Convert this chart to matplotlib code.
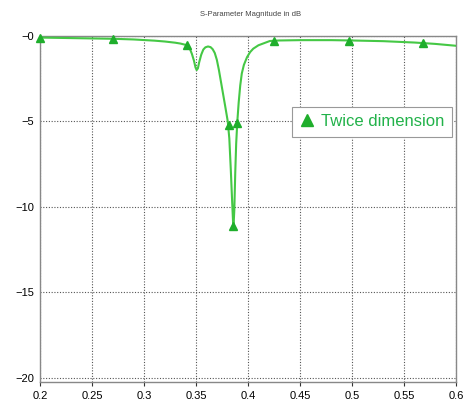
import matplotlib
matplotlib.use("Agg")
import matplotlib.pyplot as plt
from matplotlib.lines import Line2D

# curve (frequency, S-parameter magnitude in dB)
freq = [0.20, 0.22, 0.25, 0.27, 0.29, 0.31, 0.32, 0.33, 0.335, 0.3417, 0.344,
        0.346, 0.348, 0.3495, 0.3506, 0.3518, 0.353, 0.355, 0.357, 0.359, 0.3615,
        0.364, 0.366, 0.368, 0.370, 0.372, 0.374, 0.376, 0.378, 0.3805, 0.382,
        0.3834, 0.3848, 0.3859, 0.3868, 0.3877, 0.3886, 0.3897, 0.391, 0.3925,
        0.394, 0.396, 0.399, 0.402, 0.405, 0.41, 0.421, 0.43, 0.45, 0.48, 0.50,
        0.53, 0.56, 0.58, 0.60]
mag = [-0.10, -0.12, -0.15, -0.17, -0.21, -0.28, -0.33, -0.40, -0.45, -0.55, -0.75,
       -1.05, -1.45, -1.85, -2.0, -1.9, -1.55, -1.1, -0.8, -0.67, -0.62,
       -0.66, -0.78, -1.0, -1.4, -2.0, -2.7, -3.4, -4.1, -5.0, -6.0,
       -7.8, -9.8, -11.3, -10.2, -8.0, -6.3, -5.0, -3.9, -2.9,
       -2.2, -1.7, -1.25, -0.95, -0.75, -0.55, -0.3, -0.27, -0.25, -0.25, -0.27,
       -0.31, -0.39, -0.47, -0.58]

# triangle markers
mark_f = [0.20, 0.27, 0.3417, 0.3815, 0.386, 0.3895, 0.425, 0.497, 0.568]
mark_m = [-0.10, -0.17, -0.55, -5.2, -11.1, -5.1, -0.3, -0.28, -0.42]

xticks = [0.2, 0.25, 0.3, 0.35, 0.4, 0.45, 0.5, 0.55, 0.6]
yticks = [0, -5, -10, -15, -20]
ytick_labels = ["\u22120", "\u22125", "\u221210", "\u221215", "\u221220"]

plt.rcParams['font.family'] = ['Liberation Sans', 'DejaVu Sans']

fig = plt.figure(figsize=(4.68, 4.03), dpi=100)
ax = fig.add_axes([0.0855, 0.052, 0.889, 0.859])

ax.plot(freq, mag, color='#45c845', linewidth=1.5, zorder=3,
        solid_joinstyle='round')
ax.plot(mark_f, mark_m, linestyle='none', marker='^', markersize=6,
        color='#1fae2c', zorder=4, clip_on=False)

ax.set_xlim(0.2, 0.6)
ax.set_ylim(-20.25, 0)
ax.set_xticks(xticks)
ax.set_xticklabels([f"{t:g}" for t in xticks])
ax.set_yticks(yticks)
ax.set_yticklabels(ytick_labels)
ax.tick_params(axis='both', labelsize=8, colors='#333333', length=3, width=0.8)
ax.tick_params(axis='y', length=0, pad=4)
for lab in ax.get_xticklabels() + ax.get_yticklabels():
    lab.set_color('black')

ax.grid(True, linestyle=(0, (1, 1.5)), color='#555555', linewidth=0.8)
for s in ax.spines.values():
    s.set_color('#888888')
    s.set_linewidth(1.0)

fig.text(0.535, 0.965, "S-Parameter Magnitude in dB", ha='center', va='center',
         fontsize=5.5, color='#444444')

handle = Line2D([], [], linestyle='none', marker='^', markersize=9, color='#1fae2c')
leg = ax.legend([handle], ["Twice dimension"], loc='upper left',
                bbox_to_anchor=(0.605, 0.795), fontsize=12, frameon=True,
                fancybox=False, framealpha=1, edgecolor='#999999',
                handlelength=0.9, handletextpad=0.4, borderpad=0.45,
                borderaxespad=0)
for t in leg.get_texts():
    t.set_color('#22b24a')
leg.get_frame().set_linewidth(0.8)

fig.savefig("out.png", dpi=100)
